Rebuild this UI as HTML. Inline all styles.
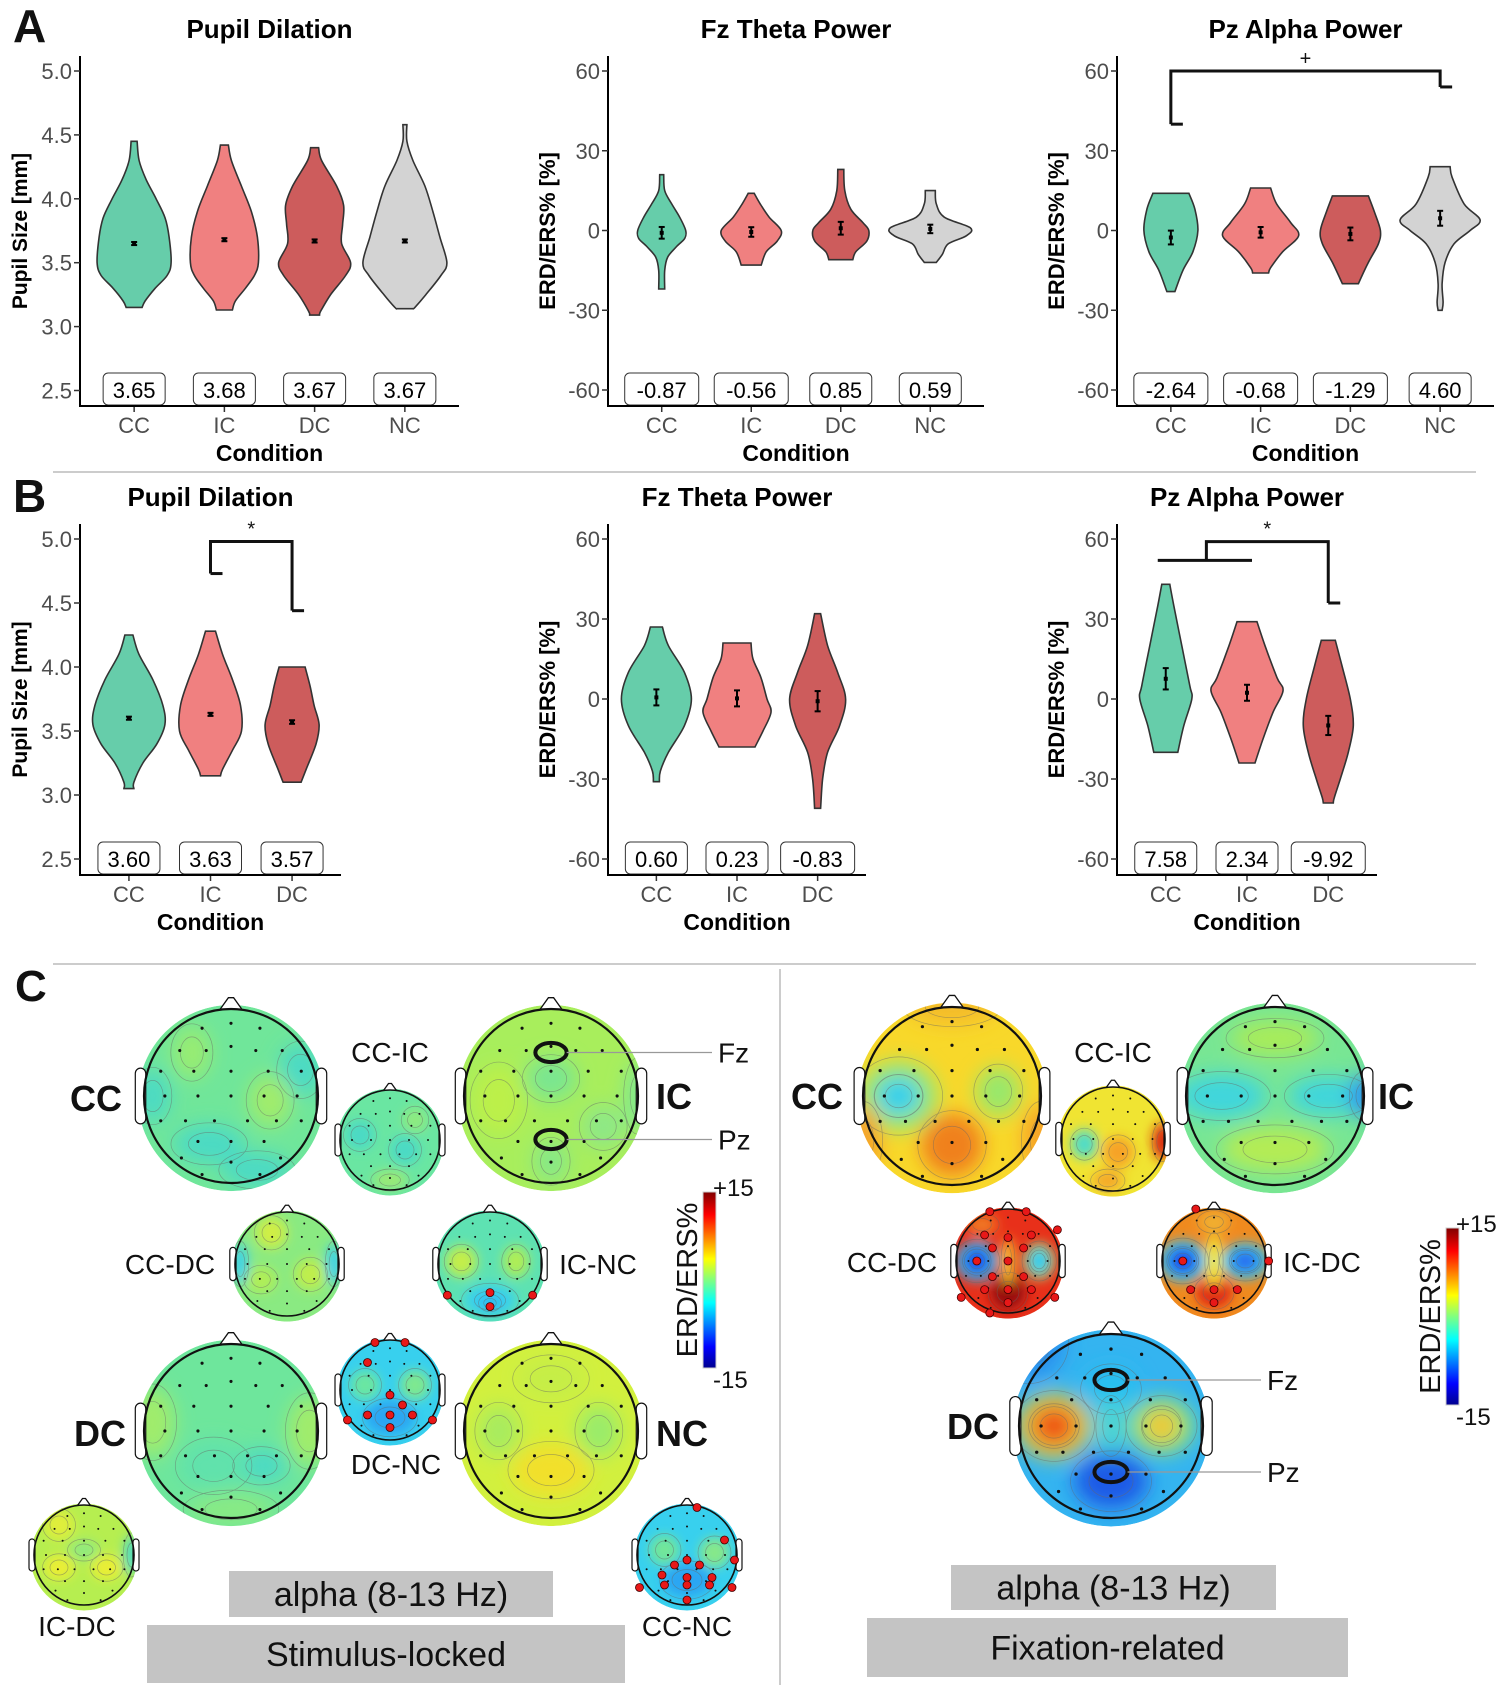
<!DOCTYPE html>
<html><head><meta charset="utf-8">
<style>
html,body{margin:0;padding:0;background:#fff;}
body{width:1499px;height:1685px;overflow:hidden;position:relative;font-family:"Liberation Sans",sans-serif;}
svg{position:absolute;left:0;top:0;}
.nar{font-family:"Liberation Sans Narrow","Liberation Sans",sans-serif;}
</style></head>
<body>
<svg id="fig" width="1499" height="1685" viewBox="0 0 1499 1685" xmlns="http://www.w3.org/2000/svg">
  <defs id="defs"></defs>
  <g id="charts"></g>
  <g id="topos"></g>
  <g id="static">
    <text x="13" y="42" font-size="46" font-weight="bold" fill="#111">A</text>
    <text x="13" y="512" font-size="46" font-weight="bold" fill="#111">B</text>
    <text x="15" y="1001" font-size="44" font-weight="bold" fill="#111">C</text>
    <line x1="53" y1="472" x2="1476" y2="472" stroke="#bbb" stroke-width="1.5"/>
    <line x1="53" y1="964" x2="1476" y2="964" stroke="#bbb" stroke-width="1.5"/>
    <line x1="780" y1="969" x2="780" y2="1685" stroke="#bbb" stroke-width="1.5"/>
  </g>
</svg>
<script>
// ===== Data =====
const catsA = ["CC","IC","DC","NC"];
const catsB = ["CC","IC","DC"];
// mean values (printed labels)
const meansA1 = [3.65, 3.68, 3.67, 3.67];
const meansA2 = [-0.87, -0.56, 0.85, 0.59];
const meansA3 = [-2.64, -0.68, -1.29, 4.60];
const meansB1 = [3.60, 3.63, 3.57];
const meansB2 = [0.60, 0.23, -0.83];
const meansB3 = [7.58, 2.34, -9.92];
// standard errors
const seA1 = [0.012, 0.012, 0.012, 0.012];
const seA2 = [2.2, 1.8, 2.4, 1.6];
const seA3 = [2.6, 2.0, 2.4, 2.8];
const seB1 = [0.012, 0.012, 0.014];
const seB2 = [3.0, 3.0, 3.8];
const seB3 = [4.0, 3.0, 3.6];
// violin density profiles: [value, density]
const violA1 = [
 [[4.45,3],[4.3,5],[4.15,12],[4.0,22],[3.85,31],[3.7,35],[3.5,37],[3.4,33],[3.3,21],[3.2,11],[3.15,8]],
 [[4.42,4],[4.3,7],[4.1,17],[3.9,27],[3.7,33],[3.5,34],[3.4,30],[3.3,21],[3.2,11],[3.13,8]],
 [[4.4,4],[4.3,7],[4.1,22],[3.95,29],[3.8,28],[3.65,27],[3.5,36],[3.4,31],[3.25,16],[3.12,6],[3.09,5]],
 [[4.58,2],[4.45,2],[4.3,8],[4.1,20],[3.9,28],[3.7,35],[3.5,42],[3.4,36],[3.25,21],[3.15,10],[3.14,8]]
];
const violA2 = [
 [[21,2],[15,3],[10,10],[5,18],[0,24],[-3,23],[-6,15],[-10,6],[-15,3],[-22,3]],
 [[14,3],[10,9],[5,18],[0,30],[-4,26],[-8,15],[-13,10]],
 [[23,3],[15,4],[8,10],[3,22],[0,28],[-4,26],[-8,15],[-11,12]],
 [[15,5],[10,6],[5,14],[1,40],[-2,36],[-5,18],[-9,12],[-12,6]]
];
const violA3 = [
 [[14,18],[8,24],[0,27],[-8,22],[-15,12],[-23,4]],
 [[16,10],[10,16],[3,30],[-2,38],[-8,22],[-14,10],[-16,8]],
 [[13,18],[7,24],[0,30],[-5,28],[-12,18],[-20,8]],
 [[24,10],[20,12],[10,24],[4,40],[0,30],[-5,14],[-12,5],[-20,2],[-27,3],[-30,2]]
];
const violB1 = [
 [[4.25,4],[4.1,10],[3.9,24],[3.7,34],[3.55,36],[3.4,28],[3.25,14],[3.1,5],[3.05,5]],
 [[4.28,5],[4.1,12],[3.9,22],[3.7,30],[3.5,31],[3.35,22],[3.2,12],[3.15,10]],
 [[4.0,13],[3.85,18],[3.7,22],[3.55,27],[3.4,24],[3.2,14],[3.1,9]]
];
const violB2 = [
 [[27,6],[20,12],[10,28],[0,35],[-10,28],[-20,12],[-27,4],[-31,3]],
 [[21,14],[15,16],[8,24],[0,30],[-5,34],[-12,26],[-18,18]],
 [[32,3],[20,10],[10,20],[0,28],[-10,22],[-20,10],[-30,5],[-41,3]]
];
const violB3 = [
 [[43,4],[35,8],[20,16],[5,24],[0,26],[-10,18],[-20,12]],
 [[29,10],[20,18],[8,30],[3,36],[-5,26],[-15,16],[-24,8]],
 [[22,7],[12,14],[0,22],[-10,25],[-20,20],[-30,12],[-37,6],[-39,5]]
];
const ticksPupil = [2.5, 3.0, 3.5, 4.0, 4.5, 5.0];
const ticksERD = [-60, -30, 0, 30, 60];
const colA = ["#66cdaa","#f08080","#cd5c5c","#d3d3d3"];

const NS = "http://www.w3.org/2000/svg";
function mk(tag, attrs, parent){ const e=document.createElementNS(NS,tag); for(const k in attrs) e.setAttribute(k,attrs[k]); if(parent) parent.appendChild(e); return e; }
function txt(parent, s, attrs){ const t=mk('text',attrs,parent); t.textContent=s; return t; }
function crPath(pts){ let d=''; for(let i=0;i<pts.length-1;i++){ const p0=pts[i-1]||pts[i],p1=pts[i],p2=pts[i+1],p3=pts[i+2]||p2;
  const c1=[p1[0]+(p2[0]-p0[0])/6,p1[1]+(p2[1]-p0[1])/6], c2=[p2[0]-(p3[0]-p1[0])/6,p2[1]-(p3[1]-p1[1])/6];
  d+=` C${c1[0].toFixed(1)},${c1[1].toFixed(1)} ${c2[0].toFixed(1)},${c2[1].toFixed(1)} ${p2[0].toFixed(1)},${p2[1].toFixed(1)}`;} return d; }

const charts=document.getElementById('charts');
function panel(cfg){
  const g=mk('g',{},charts);
  
  
  const n=cfg.cats.length, step=(cfg.xEnd-cfg.x0)/(n+0.2);
  const X=i=>cfg.x0+step*(0.6+i);
  const Y=v=>cfg.pxLo+(v-cfg.lo)*(cfg.pxHi-cfg.pxLo)/(cfg.hi-cfg.lo);
  const t=txt(g,cfg.title,{x:(cfg.x0+cfg.xEnd)/2,y:cfg.titleY,'text-anchor':'middle','font-size':26,'font-weight':'bold',class:'nar',fill:'#000'});
  
  
  cfg.viol.forEach((prof,i)=>{
    const cx=X(i);
    const right=prof.map(p=>[cx+p[1],Y(p[0])]);
    const left=prof.map(p=>[cx-p[1],Y(p[0])]).reverse();
    let d=`M${left[left.length-1][0].toFixed(1)},${left[left.length-1][1].toFixed(1)} L${right[0][0].toFixed(1)},${right[0][1].toFixed(1)}`+crPath(right)+` L${left[0][0].toFixed(1)},${left[0][1].toFixed(1)}`+crPath(left)+'Z';
    const p=mk('path',{d:d,fill:cfg.colors[i],stroke:'#333','stroke-width':1.6},g);
    
    
    const m=cfg.means[i], s=cfg.se[i];
    const eb=mk('g',{stroke:'#000','stroke-width':2},g);
    
    
    mk('line',{x1:cx,x2:cx,y1:Y(m-s),y2:Y(m+s)},eb);
    mk('line',{x1:cx-3,x2:cx+3,y1:Y(m-s),y2:Y(m-s)},eb);
    mk('line',{x1:cx-3,x2:cx+3,y1:Y(m+s),y2:Y(m+s)},eb);
    mk('rect',{x:cx-2,y:Y(m)-2,width:4,height:4,fill:'#000',stroke:'none'},eb);
    const lab=cfg.means[i].toFixed(2);
    const w=lab.length*12+14;
    const lb=mk('g',{},g);
    
    
    mk('rect',{x:cx-w/2,y:cfg.boxY,width:w,height:32,rx:5,fill:'#fff',stroke:'#333','stroke-width':1},lb);
    txt(lb,lab,{x:cx,y:cfg.boxY+25,'text-anchor':'middle','font-size':22,class:'nar',fill:'#000'});
    mk('line',{x1:cx,x2:cx,y1:cfg.axisY,y2:cfg.axisY+6,stroke:'#333','stroke-width':1.5},g);
    const xl=txt(g,cfg.cats[i],{x:cx,y:cfg.axisY+27,'text-anchor':'middle','font-size':22,class:'nar',fill:'#4d4d4d'});
    
    
  });
  const ax=mk('path',{d:`M${cfg.x0},${cfg.axisTop} L${cfg.x0},${cfg.axisY} L${cfg.xEnd},${cfg.axisY}`,fill:'none',stroke:'#000','stroke-width':2},g);
  
  
  cfg.ticks.forEach(v=>{
    const y=Y(v);
    mk('line',{x1:cfg.x0-6,x2:cfg.x0,y1:y,y2:y,stroke:'#333','stroke-width':1.5},g);
    const tl=txt(g,cfg.fmt(v),{x:cfg.x0-8,y:y+8,'text-anchor':'end','font-size':22,class:'nar',fill:'#4d4d4d'});
    
    
  });
  const yt=txt(g,cfg.ytitle,{x:0,y:0,transform:`translate(${cfg.x0-53},${(cfg.axisTop+cfg.axisY)/2}) rotate(-90)`,'text-anchor':'middle','font-size':cfg.ytSize,'font-weight':'bold',fill:'#000'});
  
  
  const xt=txt(g,'Condition',{x:(cfg.x0+cfg.xEnd)/2,y:cfg.axisY+55,'text-anchor':'middle','font-size':23,'font-weight':'bold',class:'nar',fill:'#000'});
  
  
  (cfg.brackets||[]).forEach(b=>{
    const bg=mk('g',{stroke:'#111','stroke-width':3,fill:'none'},g);
    
    
    if(b.type==='simple'){
      const xa=X(b.a), xb=X(b.b);
      mk('path',{d:`M${xa},${Y(b.ya)} L${xa},${Y(b.top)} L${xb},${Y(b.top)} L${xb},${Y(b.yb)}`},bg);
      mk('line',{x1:xa,x2:xa+12,y1:Y(b.ya),y2:Y(b.ya)},bg);
      mk('line',{x1:xb,x2:xb+12,y1:Y(b.yb),y2:Y(b.yb)},bg);
      txt(g,b.sym,{x:(xa+xb)/2,y:Y(b.top)-6,'text-anchor':'middle','font-size':20,fill:'#111'});
    } else {
      const xa=X(b.a)-8, xa2=X(b.a2)+5, xm=(X(b.a)+X(b.a2))/2, xb=X(b.b);
      mk('line',{x1:xa,x2:xa2,y1:Y(b.ya),y2:Y(b.ya)},bg);
      mk('path',{d:`M${xm},${Y(b.ya)} L${xm},${Y(b.top)} L${xb},${Y(b.top)} L${xb},${Y(b.yb)}`},bg);
      mk('line',{x1:xb,x2:xb+12,y1:Y(b.yb),y2:Y(b.yb)},bg);
      txt(g,b.sym,{x:(xm+xb)/2,y:Y(b.top)-6,'text-anchor':'middle','font-size':20,fill:'#111'});
    }
  });
}
const f1=v=>v.toFixed(1), f0=v=>String(v);
panel({name:'panel-a-pupil',title:'Pupil Dilation',titleY:38,cats:catsA,viol:violA1,means:meansA1,se:seA1,colors:colA,x0:80,xEnd:459,lo:2.5,hi:5.0,pxLo:390.5,pxHi:71,axisTop:56,axisY:406,boxY:373,ticks:ticksPupil,fmt:f1,ytitle:'Pupil Size [mm]',ytSize:21});
panel({name:'panel-a-fz-theta',title:'Fz Theta Power',titleY:38,cats:catsA,viol:violA2,means:meansA2,se:seA2,colors:colA,x0:608,xEnd:984,lo:-60,hi:60,pxLo:390,pxHi:71,axisTop:56,axisY:406,boxY:373,ticks:ticksERD,fmt:f0,ytitle:'ERD/ERS% [%]',ytSize:22});
panel({name:'panel-a-pz-alpha',title:'Pz Alpha Power',titleY:38,cats:catsA,viol:violA3,means:meansA3,se:seA3,colors:colA,x0:1117,xEnd:1494,lo:-60,hi:60,pxLo:390,pxHi:71,axisTop:56,axisY:406,boxY:373,ticks:ticksERD,fmt:f0,ytitle:'ERD/ERS% [%]',ytSize:22,
  brackets:[{type:'simple',a:0,b:3,ya:40,yb:54,top:60,sym:'+'}]});
panel({name:'panel-b-pupil',title:'Pupil Dilation',titleY:506,cats:catsB,viol:violB1,means:meansB1,se:seB1,colors:colA,x0:80,xEnd:341,lo:2.5,hi:5.0,pxLo:859,pxHi:539,axisTop:524,axisY:875,boxY:842,ticks:ticksPupil,fmt:f1,ytitle:'Pupil Size [mm]',ytSize:21,
  brackets:[{type:'simple',a:1,b:2,ya:4.73,yb:4.44,top:4.98,sym:'*'}]});
panel({name:'panel-b-fz-theta',title:'Fz Theta Power',titleY:506,cats:catsB,viol:violB2,means:meansB2,se:seB2,colors:colA,x0:608,xEnd:866,lo:-60,hi:60,pxLo:859,pxHi:539,axisTop:524,axisY:875,boxY:842,ticks:ticksERD,fmt:f0,ytitle:'ERD/ERS% [%]',ytSize:22});
panel({name:'panel-b-pz-alpha',title:'Pz Alpha Power',titleY:506,cats:catsB,viol:violB3,means:meansB3,se:seB3,colors:colA,x0:1117,xEnd:1377,lo:-60,hi:60,pxLo:859,pxHi:539,axisTop:524,axisY:875,boxY:842,ticks:ticksERD,fmt:f0,ytitle:'ERD/ERS% [%]',ytSize:22,
  brackets:[{type:'group',a:0,a2:1,b:2,ya:52,yb:36,top:59,sym:'*'}]});

// ===== Topomaps =====
const defs=document.getElementById('defs');
const topos=document.getElementById('topos');
const elec=[[0,-0.88],[-0.35,-0.82],[0.35,-0.82],[-0.62,-0.55],[-0.3,-0.55],[0,-0.6],[0.3,-0.55],[0.62,-0.55],[-0.85,-0.3],[-0.45,-0.3],[0.45,-0.3],[0.85,-0.3],[-0.8,0],[-0.4,0],[0,0],[0.4,0],[0.8,0],[-0.55,0.3],[-0.2,0.3],[0.2,0.3],[0.55,0.3],[-0.85,0.3],[0.85,0.3],[-0.4,0.55],[0,0.55],[0.4,0.55],[-0.6,0.75],[0,0.8],[0.6,0.75],[-0.35,0.95],[0.35,0.95],[0,-0.3]];
let tid=0;
function topo(name,cx,cy,R,base,blobs,opt){
  opt=opt||{};
  const id='t'+(tid++);
  const g=mk('g',{},topos);
  
  
  const cp=mk('clipPath',{id:id+'c'},defs); mk('circle',{cx:cx,cy:cy+2,r:R*1.07},cp);
  const fl=mk('filter',{id:id+'f',x:'-50%',y:'-50%',width:'200%',height:'200%'},defs); mk('feGaussianBlur',{stdDeviation:R*0.11},fl);
  const ig=mk('g',{'clip-path':`url(#${id}c)`},g);
  mk('circle',{cx:cx,cy:cy+2,r:R*1.07,fill:base},ig);
  const bg=mk('g',{filter:`url(#${id}f)`},ig);
  blobs.forEach(b=>mk('ellipse',{cx:cx+b[0]*R,cy:cy+b[1]*R,rx:b[2]*R,ry:b[3]*R,fill:b[4]},bg));
  const cg=mk('g',{fill:'none',stroke:'#666','stroke-width':0.7,opacity:0.5},ig);
  blobs.forEach(b=>{ mk('ellipse',{cx:cx+b[0]*R,cy:cy+b[1]*R,rx:b[2]*R*0.6,ry:b[3]*R*0.6},cg); mk('ellipse',{cx:cx+b[0]*R,cy:cy+b[1]*R,rx:b[2]*R*1.1,ry:b[3]*R*1.1},cg); });
  elec.forEach(e=>mk('circle',{cx:cx+e[0]*R*0.95,cy:cy+e[1]*R*0.95,r:Math.max(1,R*0.018),fill:'#111'},ig));
  mk('path',{d:`M${cx-0.13*R},${cy-R*0.99} L${cx-0.03*R},${cy-1.13*R} L${cx+0.03*R},${cy-1.13*R} L${cx+0.13*R},${cy-R*0.99}`,fill:'#fff',stroke:'#111','stroke-width':1.3},g);
  mk('rect',{x:cx-R*1.1,y:cy-R*0.32,width:R*0.12,height:R*0.64,rx:R*0.06,fill:'#fff',stroke:'#111','stroke-width':1.2},g);
  mk('rect',{x:cx+R*0.98,y:cy-R*0.32,width:R*0.12,height:R*0.64,rx:R*0.06,fill:'#fff',stroke:'#111','stroke-width':1.2},g);
  mk('circle',{cx:cx,cy:cy,r:R,fill:'none',stroke:'#111','stroke-width':R>70?2.2:1.6},g);
  (opt.red||[]).forEach(p=>mk('circle',{cx:cx+p[0]*R,cy:cy+p[1]*R,r:4,fill:'#e81818',stroke:'#400','stroke-width':0.8},g));
  if(opt.fzpz){
    mk('ellipse',{cx:cx,cy:cy-0.5*R,rx:0.18*R,ry:0.11*R,fill:'none',stroke:'#111','stroke-width':4},g);
    mk('ellipse',{cx:cx,cy:cy+0.5*R,rx:0.18*R,ry:0.11*R,fill:'none',stroke:'#111','stroke-width':4},g);
    mk('line',{x1:cx+0.18*R,y1:cy-0.5*R,x2:opt.fzpz-6,y2:cy-0.5*R,stroke:'#999','stroke-width':1.2},g);
    mk('line',{x1:cx+0.18*R,y1:cy+0.5*R,x2:opt.fzpz-6,y2:cy+0.5*R,stroke:'#999','stroke-width':1.2},g);
    txt(g,'Fz',{x:opt.fzpz,y:cy-0.5*R+10,'font-size':28,fill:'#111'});
    txt(g,'Pz',{x:opt.fzpz,y:cy+0.5*R+10,'font-size':28,fill:'#111'});
  }
}
function lab(s,x,y,size,bold,name){ const t=txt(topos,s,{x:x,y:y,'text-anchor':'middle','font-size':size,'font-weight':bold?'bold':'normal',fill:'#111'});   }
const G='#74e896', T='#4cdac4', C='#38d0ee', Y='#e6ee3a', YG='#b4ee52', O='#f6a226', Rd='#e53018', DR='#9a0a0a', B='#1c4cf0', LB='#2aa6f2';
// Stimulus-locked
topo('topo-stim-cc',231,1096,87,'#70e69a',[[-0.25,0.55,0.4,0.22,T],[0.8,-0.3,0.25,0.3,T],[-0.9,0,0.2,0.3,T],[0.45,0.05,0.25,0.3,'#a0ec6c'],[-0.45,-0.5,0.22,0.3,'#98ec72'],[0.3,0.85,0.4,0.2,T]]);
topo('topo-stim-cc-ic',390,1140,50,'#6ae6a2',[[-0.6,-0.1,0.3,0.3,T],[0.3,0.2,0.3,0.3,T],[0.5,-0.4,0.25,0.25,'#8eea80'],[0,0.8,0.35,0.2,'#9aea76']]);
topo('topo-stim-ic',551,1096,87,'#a8ee5c',[[0,-0.2,0.3,0.25,'#7ae690'],[0,0.75,0.2,0.25,'#86e888'],[-0.6,0.05,0.3,0.4,'#bcf04a'],[0.6,0.35,0.25,0.25,'#8ee886'],[1.0,0,0.15,0.4,'#80e890']],{fzpz:718});
topo('topo-stim-cc-dc',287,1264,52,'#8aea82',[[-0.3,-0.6,0.3,0.3,'#d0ee44'],[0.45,0.2,0.3,0.3,'#c0ee4c'],[-0.5,0.3,0.3,0.25,'#b0ee56'],[0.9,0,0.15,0.4,C],[-0.9,0,0.15,0.4,C]]);
topo('topo-stim-ic-nc',490,1264,52,'#5ee2b2',[[-0.55,-0.05,0.3,0.3,'#c4ee48'],[0.5,-0.05,0.25,0.3,'#b0ee54'],[0,0.7,0.5,0.3,C],[0,0.75,0.2,0.15,'#2cb8f2']],{red:[[0,0.55],[0,0.82],[-0.82,0.6],[0.82,0.6]]});
topo('topo-stim-dc',231,1431,87,'#6ee69c',[[-0.9,-0.1,0.25,0.4,'#a0ec6c'],[0.9,0,0.25,0.4,'#a0ec6c'],[0.35,0.4,0.3,0.2,T],[-0.2,0.4,0.4,0.3,'#60e2ac'],[0,0.9,0.5,0.2,'#88ea84']]);
topo('topo-stim-dc-nc',390,1390,50,C,[[0,0.55,0.5,0.35,LB],[-0.5,-0.1,0.3,0.3,'#6ae6a2'],[0.5,-0.1,0.3,0.3,'#7ee890']],{red:[[-0.3,-0.95],[0.3,-0.95],[-0.45,-0.55],[0,0.1],[0.25,0.3],[-0.45,0.5],[0,0.5],[0.45,0.5],[0,0.75],[-0.85,0.6],[0.85,0.6]]});
topo('topo-stim-nc',551,1431,87,'#d2f03e',[[0,0.45,0.45,0.3,'#f2e02c'],[-0.6,0,0.25,0.3,'#a8ec5e'],[0.55,0,0.25,0.3,'#9aec6a'],[0,-0.6,0.4,0.25,'#c6ee46']]);
topo('topo-stim-ic-dc',84,1555,50,'#b6ee50',[[-0.5,0.25,0.3,0.25,'#eaee34'],[0.45,0.25,0.3,0.25,'#eaee34'],[-0.5,-0.6,0.3,0.3,'#e0ee3a'],[0.95,0,0.15,0.4,T],[0,-0.1,0.3,0.2,'#90ea7e']]);
topo('topo-stim-cc-nc',687,1555,50,C,[[0,0.5,0.5,0.35,LB],[-0.45,-0.1,0.3,0.3,'#72e69a'],[0.55,-0.05,0.3,0.3,'#86e88a']],{red:[[0.2,-0.95],[0.75,-0.3],[0.95,0.1],[-0.25,0.2],[0.25,0.2],[0,0.1],[-0.5,0.4],[0,0.45],[0.5,0.45],[-0.45,0.6],[0,0.6],[0.45,0.6],[0,0.9],[-0.95,0.65],[0.9,0.65]]});
lab('CC',96,1111,36,true,'label-cc');
lab('CC-IC',390,1062,28,false,'label-cc-ic');
lab('IC',674,1109,36,true,'label-ic');
lab('CC-DC',170,1274,28,false,'label-cc-dc');
lab('IC-NC',598,1274,28,false,'label-ic-nc');
lab('DC',100,1446,36,true,'label-dc');
lab('DC-NC',396,1474,28,false,'label-dc-nc');
lab('NC',682,1446,36,true,'label-nc');
lab('IC-DC',77,1636,28,false,'label-ic-dc');
lab('CC-NC',687,1636,28,false,'label-cc-nc');
// Fixation-related
topo('topo-fix-cc',952,1096,89,'#f8d82a',[[-0.6,0,0.45,0.4,'#9ae870'],[-0.6,0,0.25,0.22,'#30d0ec'],[0.52,-0.05,0.25,0.28,'#98e86c'],[0,0.55,0.35,0.35,'#f0801e'],[-1,0.5,0.2,0.4,O],[1,0.5,0.2,0.4,O],[0,-1,0.5,0.2,'#f4bc2a']]);
topo('topo-fix-cc-ic',1113,1139,52,'#f0e432',[[-0.55,0.1,0.25,0.28,'#50dcc8'],[0.95,0.05,0.18,0.35,'#d81c10'],[0.1,0.25,0.3,0.3,O],[-0.1,0.8,0.3,0.2,'#f4a82a']]);
topo('topo-fix-ic',1275,1096,89,'#78e694',[[-0.6,0,0.5,0.25,'#40d6dc'],[0.6,0,0.45,0.22,'#40d6dc'],[1.0,0,0.15,0.25,'#2c8ef0'],[0,0.6,0.6,0.25,'#b4ec54'],[0,-0.65,0.5,0.2,'#a8ec5a']]);
topo('topo-fix-cc-dc',1008,1261,52,'#e8301a',[[-0.6,0,0.4,0.38,'#30c0f0'],[-0.6,0,0.25,0.25,B],[0.6,0,0.3,0.35,'#a0e860'],[0.6,0,0.2,0.25,'#28c8f0'],[0,0.6,0.35,0.35,DR],[0,0,0.12,0.45,'#f6d030'],[-0.5,-0.7,0.3,0.2,'#f07820']],{red:[[-0.35,-0.95],[0.35,-0.95],[0.95,-0.6],[-0.45,-0.5],[0,-0.45],[0.45,-0.5],[-0.3,-0.25],[0.3,-0.25],[-0.6,0],[0,0],[-0.3,0.3],[0.3,0.3],[-0.45,0.55],[0,0.55],[0.45,0.55],[0,0.8],[-0.9,0.7],[0.9,0.7],[-0.35,1.0]]});
topo('topo-fix-ic-dc',1214,1261,52,'#f08a1e',[[-0.6,0,0.45,0.4,'#30c0f0'],[-0.6,0,0.28,0.25,B],[0.6,0,0.45,0.35,'#30c8ee'],[0.6,0,0.28,0.22,'#2a70f0'],[0,0.6,0.35,0.3,'#e02818'],[0,0,0.16,0.5,'#f0e838'],[0,-0.75,0.3,0.2,'#f0b030']],{red:[[-0.6,0],[1.05,0],[-0.35,-1.0],[-0.45,0.55],[0,0.55],[0.45,0.55],[0,0.8]]});
topo('topo-fix-dc',1111,1426,92,'#34b4f0',[[-0.9,-0.9,0.4,0.4,'#2a90ee'],[0,0.6,0.4,0.3,'#1a5ae6'],[-0.62,0,0.4,0.35,'#f0d030'],[-0.62,0,0.25,0.22,'#ee5018'],[0.55,0,0.35,0.3,'#90e870'],[0.55,0,0.2,0.2,'#f0c830'],[0,-0.4,0.3,0.25,'#28c0f0'],[0,0,0.15,0.3,'#50d8d0']],{fzpz:1267});
lab('CC',817,1109,36,true,'label-fix-cc');
lab('CC-IC',1113,1062,28,false,'label-fix-cc-ic');
lab('IC',1396,1109,36,true,'label-fix-ic');
lab('CC-DC',892,1272,28,false,'label-fix-cc-dc');
lab('IC-DC',1322,1272,28,false,'label-fix-ic-dc');
lab('DC',973,1439,36,true,'label-fix-dc');

function cbar(name,x,y1,y2){
  const g=mk('g',{},topos);
  
  
  const id='cb'+name;
  const lg=mk('linearGradient',{id:id,x1:0,y1:1,x2:0,y2:0},defs);
  [['0','#00008f'],['0.12','#0000ff'],['0.37','#00ffff'],['0.5','#80ff80'],['0.62','#ffff00'],['0.87','#ff0000'],['1','#800000']].forEach(s=>mk('stop',{offset:s[0],'stop-color':s[1]},lg));
  mk('rect',{x:x,y:y1,width:13,height:y2-y1,fill:`url(#${id})`,stroke:'#ccc','stroke-width':1},g);
  txt(g,'+15',{x:x+10,y:y1+4,'font-size':24,fill:'#111'});
  txt(g,'-15',{x:x+10,y:y2+20,'font-size':24,fill:'#111'});
  txt(g,'ERD/ERS%',{x:0,y:0,transform:`translate(${x-6},${(y1+y2)/2}) rotate(-90)`,'text-anchor':'middle','font-size':29,fill:'#111'});
}
cbar('colorbar-stimulus',703,1192,1368);
cbar('colorbar-fixation',1446,1228,1405);

function gbox(name,x1,y1,x2,y2,s){
  const g=mk('g',{},topos);
  
  
  mk('rect',{x:x1,y:y1,width:x2-x1,height:y2-y1,fill:'#c4c4c4'},g);
  txt(g,s,{x:(x1+x2)/2,y:(y1+y2)/2+12,'text-anchor':'middle','font-size':34,fill:'#111'});
}
gbox('band-label-stimulus',229,1571,553,1617,'alpha (8-13 Hz)');
gbox('condition-label-stimulus',147,1625,625,1683,'Stimulus-locked');
gbox('band-label-fixation',951,1565,1276,1610,'alpha (8-13 Hz)');
gbox('condition-label-fixation',867,1618,1348,1677,'Fixation-related');
</script>
</body></html>
